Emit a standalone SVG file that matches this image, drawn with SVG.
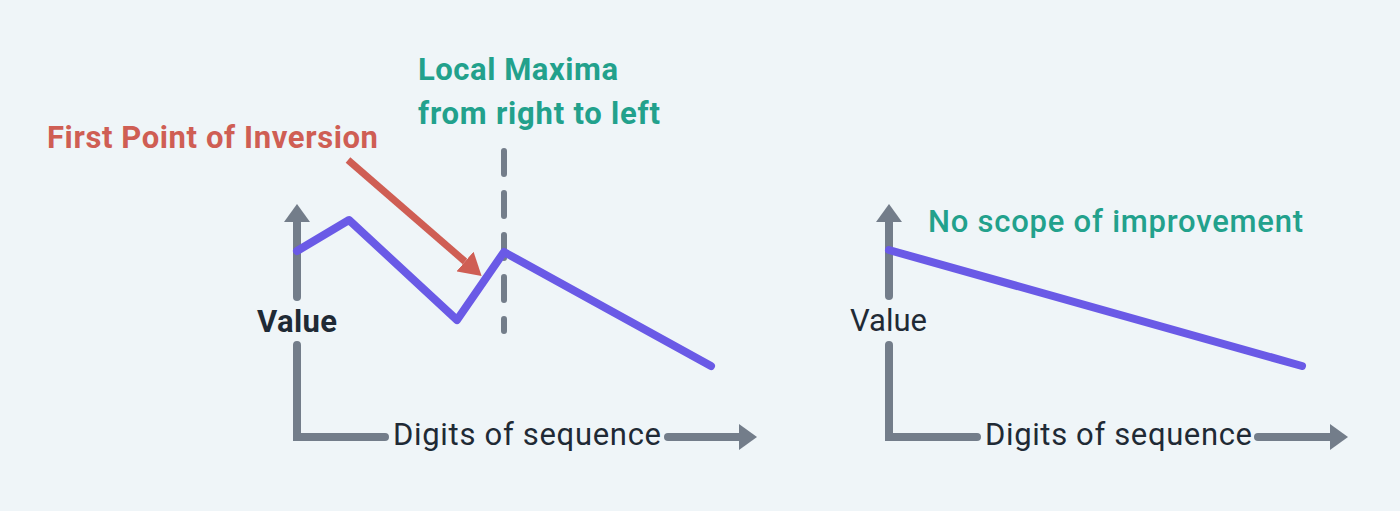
<svg xmlns="http://www.w3.org/2000/svg" width="1400" height="511" viewBox="0 0 1400 511">
<defs>
<style>
.axis{fill:none;stroke:#737d8a;stroke-width:8;stroke-linecap:round;stroke-linejoin:miter}
.dash{fill:none;stroke:#737d8a;stroke-width:6;stroke-linecap:round;stroke-dasharray:23 19}
.curve{fill:none;stroke:#6a5ae6;stroke-width:8;stroke-linecap:round;stroke-linejoin:round}
.red{fill:none;stroke:#cf5e54;stroke-width:7}
.t{font-family:Roboto,"Liberation Sans",sans-serif;font-size:31px}
.dark{fill:#1f2a35}
.teal{fill:#22a18c}
.redt{fill:#cf5e54}
</style>
<marker id="ah" viewBox="0 0 18 26" refX="0" refY="13" markerWidth="18" markerHeight="26" markerUnits="userSpaceOnUse" orient="auto">
<path d="M0,0 L18,13 L0,26 z" fill="#737d8a"/>
</marker>
<marker id="rh" viewBox="0 0 22 26" refX="0" refY="13" markerWidth="22" markerHeight="26" markerUnits="userSpaceOnUse" orient="auto">
<path d="M0,0 L22,13 L0,26 z" fill="#cf5e54"/>
</marker>
</defs>
<rect width="1400" height="511" fill="#eff5f8"/>

<g id="connectors">
<line class="axis" x1="297" y1="297" x2="297" y2="222" marker-end="url(#ah)"/>
<polyline class="axis" points="297,345 297,437 385,437"/>
<line class="axis" x1="668" y1="437" x2="739" y2="437" marker-end="url(#ah)"/>
<line class="axis" x1="889" y1="296" x2="889" y2="222" marker-end="url(#ah)"/>
<polyline class="axis" points="889,345 889,437 977,437"/>
<line class="axis" x1="1258" y1="437" x2="1330" y2="437" marker-end="url(#ah)"/>
<line class="dash" x1="504" y1="151" x2="504" y2="331"/>
<line class="red" x1="348" y1="160" x2="465" y2="261.5" marker-end="url(#rh)"/>
</g>

<g id="left-chart">
<polyline class="curve" points="297,251 349,220 457,320 504,252 711,366"/>
</g>
<g id="right-chart">
<line class="curve" x1="889" y1="250" x2="1302" y2="366"/>
</g>

<g id="label-first-point">
<text class="t redt" x="47" y="148" font-weight="700" textLength="331">First Point of Inversion</text>
</g>
<g id="label-local-maxima">
<text class="t teal" x="418" y="80" font-weight="700" textLength="200">Local Maxima</text>
<text class="t teal" x="418" y="124" font-weight="700" textLength="242">from right to left</text>
</g>
<g id="label-no-scope">
<text class="t teal" x="928" y="232" font-weight="500" textLength="375">No scope of improvement</text>
</g>
<g id="left-axis-labels">
<text class="t dark" x="257" y="332" font-weight="700" textLength="80">Value</text>
<text class="t dark" x="393" y="445" textLength="268">Digits of sequence</text>
</g>
<g id="right-axis-labels">
<text class="t dark" x="850" y="331" textLength="77">Value</text>
<text class="t dark" x="985" y="445" textLength="267">Digits of sequence</text>
</g>
</svg>
